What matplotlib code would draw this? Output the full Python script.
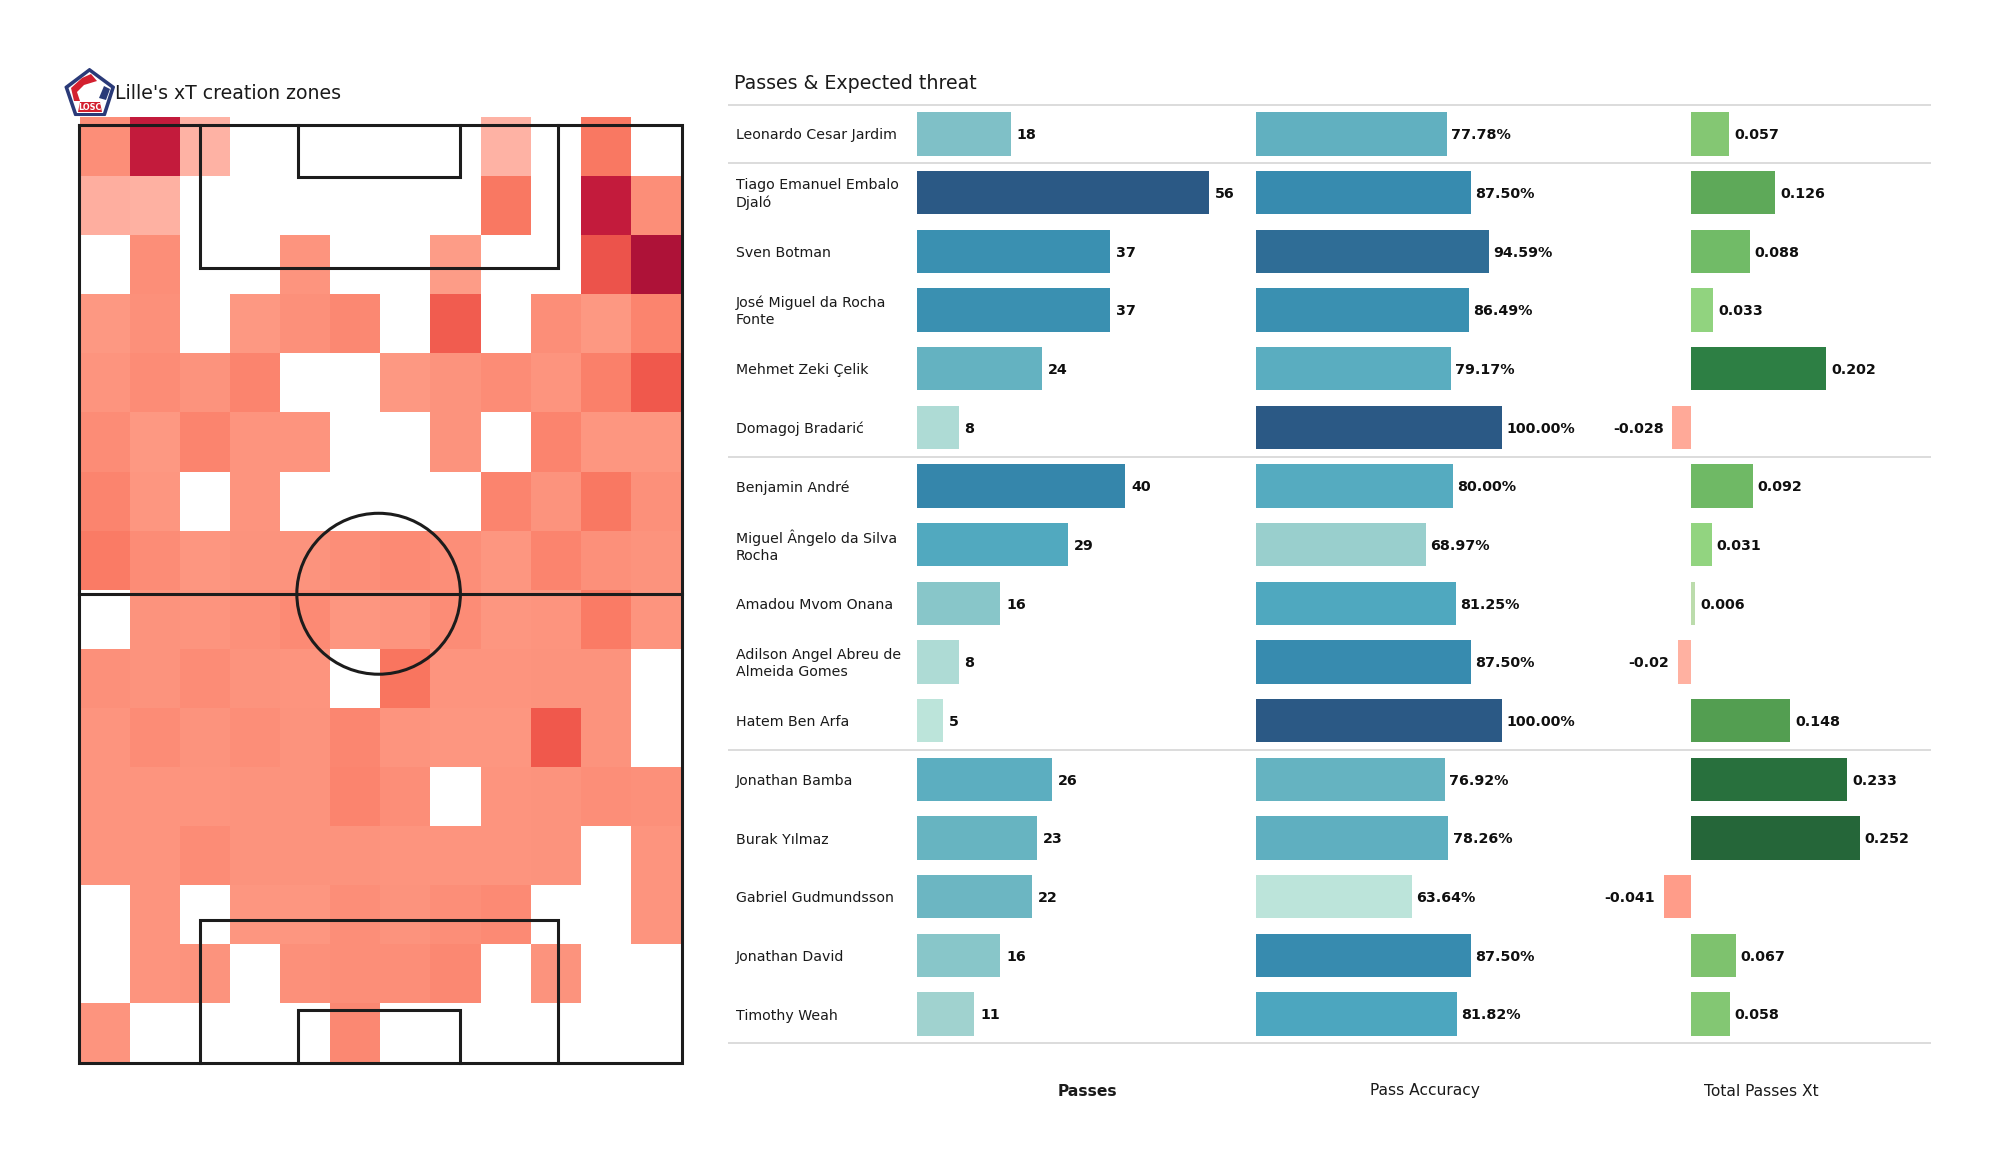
import numpy as np
import matplotlib
matplotlib.use("Agg")
import matplotlib.pyplot as plt
from matplotlib.colors import LinearSegmentedColormap
from matplotlib.patches import Ellipse, Polygon, Rectangle

W, H = 2000, 1175
n = np.nan

players = ["Leonardo Cesar Jardim", "Tiago Emanuel Embalo\nDjaló", "Sven Botman",
           "José Miguel da Rocha\nFonte", "Mehmet Zeki Çelik", "Domagoj Bradarić",
           "Benjamin André", "Miguel Ângelo da Silva\nRocha", "Amadou Mvom Onana",
           "Adilson Angel Abreu de\nAlmeida Gomes", "Hatem Ben Arfa", "Jonathan Bamba",
           "Burak Yılmaz", "Gabriel Gudmundsson", "Jonathan David", "Timothy Weah"]
passes = [18, 56, 37, 37, 24, 8, 40, 29, 16, 8, 5, 26, 23, 22, 16, 11]
accuracy = [77.78, 87.50, 94.59, 86.49, 79.17, 100.00, 80.00, 68.97, 81.25, 87.50,
            100.00, 76.92, 78.26, 63.64, 87.50, 81.82]
xt = [0.057, 0.126, 0.088, 0.033, 0.202, -0.028, 0.092, 0.031, 0.006, -0.02,
      0.148, 0.233, 0.252, -0.041, 0.067, 0.058]
xt_labels = ["0.057", "0.126", "0.088", "0.033", "0.202", "-0.028", "0.092", "0.031",
             "0.006", "-0.02", "0.148", "0.233", "0.252", "-0.041", "0.067", "0.058"]
group_rules = [-0.5, 0.5, 5.5, 10.5, 15.5]

zone_xt = np.array([
    [25, 88, 6, n, n, n, n, n, 6, n, 38, n],
    [8, 7, n, n, n, n, n, n, 38, n, 88, 25],
    [n, 25, n, n, 22, n, n, 18, n, n, 55, 100],
    [20, 24, n, 20, 24, 28, n, 50, n, 25, 20, 30],
    [22, 26, 23, 30, n, n, 20, 23, 26, 22, 33, 52],
    [26, 20, 30, 22, 22, n, n, 23, n, 30, 21, 21],
    [30, 21, n, 22, n, n, n, n, 30, 23, 38, 24],
    [36, 26, 21, 23, 23, 25, 27, 25, 21, 30, 24, 23],
    [n, 23, 22, 24, 27, 21, 22, 26, 21, 22, 36, 22],
    [24, 23, 26, 23, 22, n, 40, 22, 22, 23, 23, n],
    [22, 26, 23, 25, 23, 29, 22, 21, 21, 52, 23, n],
    [22, 22, 22, 23, 23, 30, 25, n, 22, 23, 25, 24],
    [22, 22, 26, 23, 23, 23, 22, 22, 22, 23, n, 22],
    [n, 22, n, 21, 21, 25, 23, 25, 27, n, n, 22],
    [n, 22, 23, n, 24, 25, 25, 28, n, 23, n, n],
    [22, n, n, n, n, 28, n, n, n, n, n, n],
])

heat_cmap = LinearSegmentedColormap.from_list("xt", [
    (0.00, "#FFBDB2"), (0.20, "#FD9882"), (0.30, "#FB846E"), (0.40, "#F9755F"),
    (0.52, "#F0584C"), (0.88, "#C31B3C"), (1.00, "#AE1238")])
pass_cmap = LinearSegmentedColormap.from_list("teal", [
    (0.00, "#BCE4DA"), (0.12, "#9FD2CF"), (0.35, "#68B4C1"), (0.50, "#4CA6BF"),
    (0.66, "#368AAE"), (0.82, "#30719A"), (1.00, "#2B5985")])
xt_pos_cmap = LinearSegmentedColormap.from_list("grn", [
    (0.00, "#C8DDB8"), (0.10, "#95D783"), (0.25, "#80C470"), (0.40, "#6AB662"),
    (0.60, "#529C50"), (0.80, "#2D8044"), (1.00, "#256639")])
xt_neg_cmap = LinearSegmentedColormap.from_list("neg", ["#FFC4B8", "#FF9C89"])

fig = plt.figure(figsize=(W / 100, H / 100), dpi=100, facecolor="white")


def box(x0, y0, x1, y1):
    return [x0 / W, 1 - y1 / H, (x1 - x0) / W, (y1 - y0) / H]


# heat map
ax_h = fig.add_axes(box(79.5, 117, 681, 1062.5))
ax_h.pcolormesh(np.arange(13), np.arange(17), np.ma.masked_invalid(zone_xt),
                cmap=heat_cmap, vmin=0, vmax=100, edgecolors="none")
ax_h.set_xlim(0, 12)
ax_h.set_ylim(16, 0)
ax_h.axis("off")

# pitch
ax_p = fig.add_axes(box(79, 125, 682, 1062.5))
ax_p.patch.set_alpha(0)
ax_p.set_xlim(0, 80)
ax_p.set_ylim(120, 0)
ax_p.axis("off")
lw = dict(color="#1c1c1c", lw=2.2, solid_joinstyle="miter", clip_on=False)
ax_p.plot([0, 80, 80, 0, 0], [0, 0, 120, 120, 0], **lw)
ax_p.plot([0, 80], [60, 60], **lw)
for y_goal, s in [(0, 1), (120, -1)]:
    ax_p.plot([16, 16, 63.6, 63.6], [y_goal, y_goal + s * 18.3, y_goal + s * 18.3, y_goal], **lw)
    ax_p.plot([29, 29, 50.6, 50.6], [y_goal, y_goal + s * 6.7, y_goal + s * 6.7, y_goal], **lw)
ax_p.add_patch(Ellipse((39.75, 60), 21.7, 20.6, fill=False, ec="#1c1c1c", lw=2.2))

# full-figure pixel overlay for crest, titles and rules
ax_o = fig.add_axes([0, 0, 1, 1])
ax_o.patch.set_alpha(0)
ax_o.set_xlim(0, W)
ax_o.set_ylim(H, 0)
ax_o.axis("off")

ax_o.add_patch(Polygon([(89.5, 69), (114, 87), (105, 115), (75, 115), (65.5, 87)],
                       closed=True, fc="#2a3a78", ec="#2a3a78", lw=1.5, joinstyle="round"))
ax_o.add_patch(Polygon([(89.5, 72), (111, 88), (103, 113), (77, 113), (68.5, 88)],
                       closed=True, fc="white", ec="none"))
ax_o.add_patch(Polygon([(91, 74), (82, 78), (71, 88), (74, 101), (80, 101), (77, 92), (84, 85), (97, 81)],
                       closed=True, fc="#d3202f", ec="none"))
ax_o.add_patch(Polygon([(80, 102), (100, 102), (102, 112), (78, 112)],
                       closed=True, fc="#d3202f", ec="none"))
ax_o.add_patch(Polygon([(104, 86), (110, 89), (106, 100), (99, 98)],
                       closed=True, fc="#2a3a78", ec="none"))
ax_o.text(90, 107.2, "LOSC", fontsize=5.8, color="white", fontweight="bold", ha="center", va="center")

ax_o.text(115, 93.5, "Lille's xT creation zones", fontsize=13.6, color="#1a1a1a", va="center", ha="left")
ax_o.text(733.5, 83.5, "Passes & Expected threat", fontsize=13.7, color="#1a1a1a", va="center", ha="left")

# bars
row0, row_h = 134.0, 58.67
top = row0 - row_h / 2
bot = top + 16 * row_h


def panel(x0, x1, xlim):
    ax = fig.add_axes(box(x0, top, x1, bot))
    ax.patch.set_alpha(0)
    ax.set_xlim(*xlim)
    ax.set_ylim(15.5, -0.5)
    ax.axis("off")
    return ax


rows = np.arange(len(players))
BLACK = "#0f0f0f"
VAL = dict(fontsize=10.3, fontweight="bold", color=BLACK, va="center")
TEXT_SHIFT = 1.0  # px, text baseline sits a touch below the bar centre

ax1 = panel(917, 1240, (0, 62))
ax1.barh(rows, passes, height=0.74, color=[pass_cmap((v - 5) / 51) for v in passes])
for r, v in zip(rows, passes):
    ax1.annotate(str(v), (v, r), xytext=(4.2, -TEXT_SHIFT), textcoords="offset points", **VAL)

ax2 = panel(1255.5, 1600, (0, 100 * 344.5 / 246.5))
ax2.barh(rows, accuracy, height=0.74, color=[pass_cmap((v - 63.64) / 36.36) for v in accuracy])
for r, v in zip(rows, accuracy):
    ax2.annotate(f"{v:.2f}%", (v, r), xytext=(3, -TEXT_SHIFT), textcoords="offset points", **VAL)

ax3 = panel(1600, 1931, ((1600 - 1691) / 670.6, (1931 - 1691) / 670.6))
colors3 = [xt_pos_cmap(v / 0.252) if v >= 0 else xt_neg_cmap(-v / 0.041) for v in xt]
ax3.barh(rows, xt, height=0.74, color=colors3)
for r, v, s in zip(rows, xt, xt_labels):
    if v >= 0:
        ax3.annotate(s, (v, r), xytext=(3.5, -TEXT_SHIFT), textcoords="offset points", ha="left", **VAL)
    else:
        ax3.annotate(s, (v, r), xytext=(-6, -TEXT_SHIFT), textcoords="offset points", ha="right", **VAL)

# row names and rules
for r, name in zip(rows, players):
    ax_o.text(735.5, row0 + r * row_h + 1.5, name, fontsize=10.2, color="#1a1a1a", va="center", ha="left",
              linespacing=1.3)
for g in group_rules:
    y = row0 + g * row_h
    ax_o.plot([728, 1931], [y, y], color="#dcdcdc", lw=1.4, solid_capstyle="butt", zorder=0)

for xc, label, weight in [(1087, "Passes", "bold"), (1424.5, "Pass Accuracy", "normal"),
                          (1761.5, "Total Passes Xt", "normal")]:
    ax_o.text(xc, 1091, label, fontsize=11.2, fontweight=weight, color="#1a1a1a", ha="center", va="center")

fig.savefig("out.png", dpi=100, facecolor="white")
